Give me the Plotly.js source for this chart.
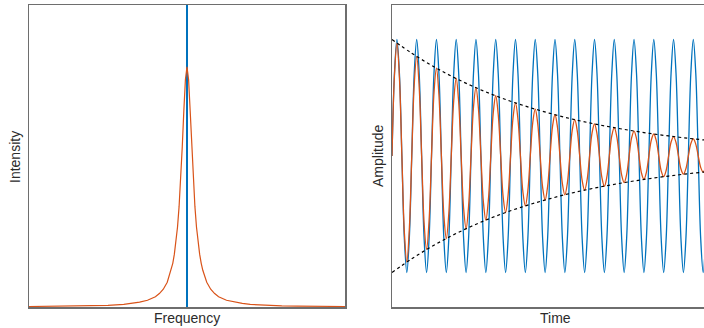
<!DOCTYPE html>
<html>
<head>
<meta charset="utf-8">
<script src="https://cdn.plot.ly/plotly-3.0.1.min.js"></script>
<style>
html, body { margin: 0; padding: 0; background: #ffffff; overflow: hidden; width: 704px; height: 328px; }
#chart { width: 720px; height: 328px; }
</style>
</head>
<body>
<div id="chart"></div>
<script>
// ---- Left panel: spectrum ----
const frequency = [-10, -8, -7, -6, -5, -4, -3.5, -3, -2.5, -2, -1.75, -1.5, -1.25, -1, -0.9, -0.8, -0.7, -0.6, -0.5, -0.4, -0.3, -0.2, -0.1, 0,
                   0.1, 0.2, 0.3, 0.4, 0.5, 0.6, 0.7, 0.8, 0.9, 1, 1.25, 1.5, 1.75, 2, 2.5, 3, 3.5, 4, 5, 6, 7, 8, 10];
const intensity = [0.002, 0.003, 0.004, 0.005, 0.007, 0.011, 0.015, 0.020, 0.028, 0.043, 0.056, 0.074, 0.103, 0.153, 0.182, 0.220, 0.269, 0.333, 0.419, 0.529, 0.667, 0.818, 0.947, 1.0,
                   0.947, 0.818, 0.667, 0.529, 0.419, 0.333, 0.269, 0.220, 0.182, 0.153, 0.103, 0.074, 0.056, 0.043, 0.028, 0.020, 0.015, 0.011, 0.007, 0.005, 0.004, 0.003, 0.002];
const lineFrequency = [0, 0];
const lineIntensity = [0, 5];

// ---- Right panel: signals in time (sampled every 1/8 period) ----
const timeStart = 0;
const timeStep = 0.125;
const undamped = [
  0, 0.71, 1, 0.71, 0, -0.71, -1, -0.71,
  0, 0.71, 1, 0.71, 0, -0.71, -1, -0.71,
  0, 0.71, 1, 0.71, 0, -0.71, -1, -0.71,
  0, 0.71, 1, 0.71, 0, -0.71, -1, -0.71,
  0, 0.71, 1, 0.71, 0, -0.71, -1, -0.71,
  0, 0.71, 1, 0.71, 0, -0.71, -1, -0.71,
  0, 0.71, 1, 0.71, 0, -0.71, -1, -0.71,
  0, 0.71, 1, 0.71, 0, -0.71, -1, -0.71,
  0, 0.71, 1, 0.71, 0, -0.71, -1, -0.71,
  0, 0.71, 1, 0.71, 0, -0.71, -1, -0.71,
  0, 0.71, 1, 0.71, 0, -0.71, -1, -0.71,
  0, 0.71, 1, 0.71, 0, -0.71, -1, -0.71,
  0, 0.71, 1, 0.71, 0, -0.71, -1, -0.71,
  0, 0.71, 1, 0.71, 0, -0.71, -1, -0.71,
  0, 0.71, 1, 0.71, 0, -0.71, -1, -0.71,
  0, 0.71, 1, 0.71, 0, -0.71, -1, -0.71,
  0, 0.71, 1, 0.71, 0
];
const damped = [
  0, 0.696, 0.969, 0.675, 0, -0.654, -0.910, -0.633,
  0, 0.614, 0.855, 0.595, 0, -0.576, -0.802, -0.559,
  0, 0.541, 0.754, 0.525, 0, -0.508, -0.708, -0.493,
  0, 0.477, 0.665, 0.463, 0, -0.448, -0.624, -0.434,
  0, 0.421, 0.586, 0.408, 0, -0.395, -0.550, -0.383,
  0, 0.371, 0.517, 0.360, 0, -0.349, -0.485, -0.338,
  0, 0.327, 0.456, 0.317, 0, -0.307, -0.428, -0.298,
  0, 0.289, 0.402, 0.280, 0, -0.271, -0.377, -0.263,
  0, 0.255, 0.354, 0.247, 0, -0.239, -0.333, -0.232,
  0, 0.224, 0.312, 0.218, 0, -0.211, -0.293, -0.204,
  0, 0.198, 0.276, 0.192, 0, -0.186, -0.259, -0.180,
  0, 0.175, 0.243, 0.169, 0, -0.164, -0.228, -0.159,
  0, 0.154, 0.214, 0.149, 0, -0.145, -0.201, -0.140,
  0, 0.136, 0.189, 0.132, 0, -0.128, -0.177, -0.124,
  0, 0.120, 0.167, 0.116, 0, -0.112, -0.156, -0.109,
  0, 0.106, 0.147, 0.102, 0, -0.099, -0.138, -0.096,
  0, 0.093, 0.130, 0.090, 0
];
const envelopeTime = [0, 1, 2, 3, 4, 5, 6, 7, 8, 9, 10, 11, 12, 13, 14, 15, 16, 16.5];
const envelopeUpper = [1, 0.882, 0.778, 0.686, 0.605, 0.533, 0.470, 0.415, 0.366, 0.322, 0.284, 0.251, 0.221, 0.195, 0.172, 0.152, 0.134, 0.126];
const envelopeLower = [-1, -0.882, -0.778, -0.686, -0.605, -0.533, -0.470, -0.415, -0.366, -0.322, -0.284, -0.251, -0.221, -0.195, -0.172, -0.152, -0.134, -0.126];

const axisTitles = ['Frequency', 'Intensity', 'Time', 'Amplitude'];

const BLUE = '#0072BD';
const ORANGE = '#D95319';

const traces = [
  { x: lineFrequency, y: lineIntensity, xaxis: 'x', yaxis: 'y', mode: 'lines',
    line: { color: BLUE, width: 2 }, hoverinfo: 'skip' },
  { x: frequency, y: intensity, xaxis: 'x', yaxis: 'y', mode: 'lines',
    line: { color: ORANGE, width: 1.2 }, hoverinfo: 'skip' },
  { x0: timeStart, dx: timeStep, y: undamped, xaxis: 'x2', yaxis: 'y2', mode: 'lines',
    line: { color: BLUE, width: 1.3, shape: 'spline', smoothing: 1 }, hoverinfo: 'skip' },
  { x0: timeStart, dx: timeStep, y: damped, xaxis: 'x2', yaxis: 'y2', mode: 'lines',
    line: { color: ORANGE, width: 1.3, shape: 'spline', smoothing: 1 }, hoverinfo: 'skip' },
  { x: envelopeTime, y: envelopeUpper, xaxis: 'x2', yaxis: 'y2', mode: 'lines',
    line: { color: '#000000', width: 1.2, dash: 'dot', shape: 'spline' }, hoverinfo: 'skip' },
  { x: envelopeTime, y: envelopeLower, xaxis: 'x2', yaxis: 'y2', mode: 'lines',
    line: { color: '#000000', width: 1.2, dash: 'dot', shape: 'spline' }, hoverinfo: 'skip' }
];

const frame = {
  showline: true, mirror: true, linecolor: '#6e6e6e', linewidth: 1.5,
  showgrid: false, zeroline: false, showticklabels: false, ticks: '', fixedrange: true
};

const W = 720, H = 328, L = 29, R = 2, T = 5, B = 21;
const pw = W - L - R, ph = H - T - B;
const px = v => (v - L) / pw;
const py = v => (H - B - v) / ph;
const font = { family: '"Liberation Sans", Arial, Helvetica, sans-serif', size: 14, color: '#2b2b2b' };

const layout = {
  width: W, height: H,
  margin: { l: L, r: R, t: T, b: B, pad: 0 },
  paper_bgcolor: '#ffffff', plot_bgcolor: '#ffffff',
  showlegend: false,
  font: font,
  xaxis: Object.assign({}, frame, { domain: [0, px(345)], range: [-10, 10], anchor: 'y' }),
  yaxis: Object.assign({}, frame, { domain: [0, 1], range: [0, 1.258], anchor: 'x' }),
  xaxis2: Object.assign({}, frame, { domain: [px(392), 1], range: [0, 16.5], anchor: 'y2' }),
  yaxis2: Object.assign({}, frame, { domain: [0, 1], range: [-1.296, 1.296], anchor: 'x2' }),
  annotations: [
    { text: axisTitles[0], xref: 'paper', yref: 'paper', x: px(187), y: py(318), xanchor: 'center', yanchor: 'middle', showarrow: false, font: font },
    { text: axisTitles[1], xref: 'paper', yref: 'paper', x: px(15), y: py(157), xanchor: 'center', yanchor: 'middle', textangle: -90, showarrow: false, font: font },
    { text: axisTitles[2], xref: 'paper', yref: 'paper', x: px(555), y: py(318), xanchor: 'center', yanchor: 'middle', showarrow: false, font: font },
    { text: axisTitles[3], xref: 'paper', yref: 'paper', x: px(378), y: py(156), xanchor: 'center', yanchor: 'middle', textangle: -90, showarrow: false, font: font }
  ]
};

Plotly.newPlot('chart', traces, layout, { staticPlot: true, displayModeBar: false });
</script>
</body>
</html>
